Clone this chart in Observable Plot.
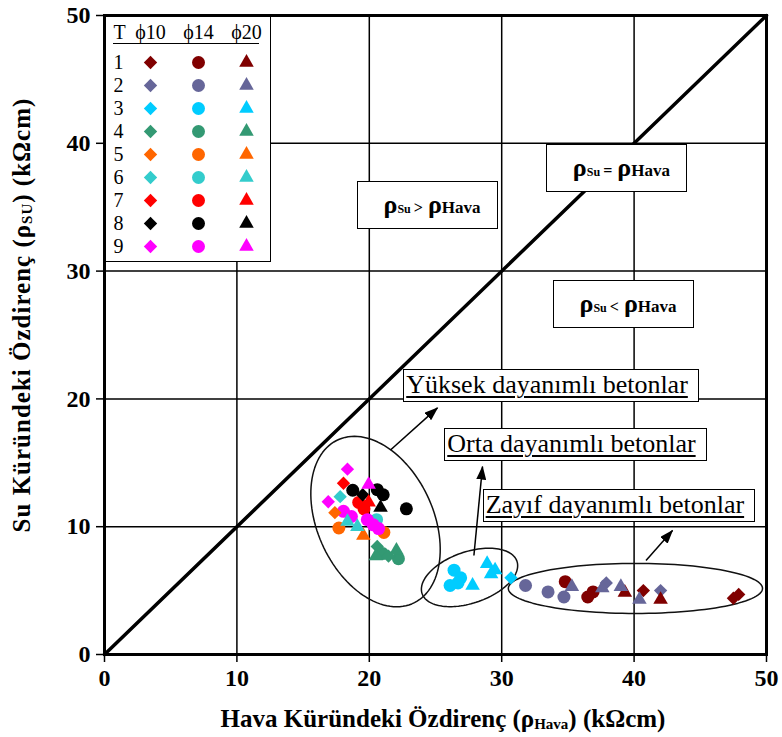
<!DOCTYPE html>
<html>
<head>
<meta charset="utf-8">
<script src="https://cdn.jsdelivr.net/npm/d3@7"></script>
<script src="https://cdn.jsdelivr.net/npm/@observablehq/plot@0.6"></script>
<style>
  body { margin: 0; background: #fff; }
  #wrap { position: relative; width: 782px; height: 737px; font-family: "Liberation Serif", "Times New Roman", serif; color: #000; }
  #wrap svg { display: block; }
  .rbox { position: absolute; width: 141px; height: 48px; box-sizing: border-box; border: 1.5px solid #000; background: #fff;
          display: flex; align-items: center; justify-content: center; font-weight: bold; padding-left: 10px; }
  .rbox .rho { font-size: 26px; }
  .rbox .s1 { font-size: 12px; }
  .rbox .op { font-size: 16px; margin: 0 5px 0 3px; }
  .rbox .s2 { font-size: 17px; }
  .cbox { position: absolute; height: 33px; box-sizing: border-box; border: 1.5px solid #000; background: #fff;
          font-size: 26px; line-height: 29px; padding: 0 10px 0 2px; white-space: nowrap;
          text-decoration: underline; text-decoration-thickness: 1.5px; text-underline-offset: 3px; }
  .axlab { position: absolute; font-weight: bold; font-size: 25px; text-align: center; white-space: nowrap; line-height: 30px; height: 30px; }
  .axlab sub { font-size: 15px; vertical-align: -2px; }
  #ylab { letter-spacing: 1px; }
  #legend { position: absolute; left: 105.5px; top: 16.5px; width: 164px; height: 244px; background: #fff;
            border-right: 1.5px solid #000; border-bottom: 1.5px solid #000; }
  #legend .uline { position: absolute; left: 7px; top: 26.5px; width: 146px; border-top: 1.5px solid #000; }
  #legend svg { position: absolute; left: 0; top: 0; }
</style>
</head>
<body>
<div id="wrap"></div>
<script>
// ---- categories / tick labels ----
const seriesNames = ["1", "2", "3", "4", "5", "6", "7", "8", "9"];          // T
const seriesColors = ["#800000", "#666699", "#00CCFF", "#339973", "#FF6600", "#33CCCC", "#FF0000", "#000000", "#FF00FF"];
const sizeNames = ["ϕ10", "ϕ14", "ϕ20"];
const sizeSymbols = ["diamond2", "circle", "triangle"];
const markerR = [6, 6.5, 5.4];
const xTicks = [0, 10, 20, 30, 40, 50];
const yTicks = [0, 10, 20, 30, 40, 50];
const equalityLine = [0, 50];

// ---- measured values: [diameter, ρHava (kΩcm), ρSu (kΩcm)] ----
const t1 = [["ϕ10", 40.7, 5.0], ["ϕ10", 47.5, 4.4], ["ϕ10", 47.9, 4.7], ["ϕ14", 34.8, 5.7], ["ϕ14", 36.5, 4.5], ["ϕ14", 36.9, 4.9], ["ϕ20", 39.3, 4.85], ["ϕ20", 42.0, 4.3]];
const t2 = [["ϕ10", 37.9, 5.6], ["ϕ10", 42.0, 5.0], ["ϕ14", 31.8, 5.4], ["ϕ14", 33.5, 4.9], ["ϕ14", 34.7, 4.5], ["ϕ20", 35.3, 5.3], ["ϕ20", 37.6, 5.2], ["ϕ20", 39.0, 5.3], ["ϕ20", 40.4, 4.3]];
const t3 = [["ϕ10", 30.7, 6.0], ["ϕ14", 26.4, 6.6], ["ϕ14", 26.9, 6.0], ["ϕ14", 26.1, 5.4], ["ϕ14", 26.7, 5.6], ["ϕ20", 27.8, 5.4], ["ϕ20", 28.9, 7.1], ["ϕ20", 29.2, 6.3], ["ϕ20", 29.5, 6.6]];
const t4 = [["ϕ10", 20.6, 8.45], ["ϕ10", 21.45, 7.7], ["ϕ14", 21.0, 7.9], ["ϕ14", 22.2, 7.5], ["ϕ20", 22.05, 8.15], ["ϕ20", 20.5, 7.7]];
const t5 = [["ϕ10", 17.4, 11.1], ["ϕ14", 17.7, 9.9], ["ϕ14", 21.1, 9.55], ["ϕ20", 19.55, 9.3]];
const t6 = [["ϕ10", 17.8, 12.35], ["ϕ14", 20.55, 10.55], ["ϕ20", 19.1, 10.0], ["ϕ20", 18.35, 10.4]];
const t7 = [["ϕ10", 18.05, 13.4], ["ϕ14", 19.2, 11.9], ["ϕ14", 19.6, 11.4], ["ϕ20", 19.95, 11.9]];
const t8 = [["ϕ10", 19.5, 12.5], ["ϕ14", 18.75, 12.85], ["ϕ14", 20.6, 12.9], ["ϕ14", 21.05, 12.5], ["ϕ14", 22.8, 11.4], ["ϕ20", 20.85, 11.5]];
const t9 = [["ϕ10", 18.35, 14.5], ["ϕ10", 16.9, 11.95], ["ϕ14", 18.05, 11.2], ["ϕ14", 18.65, 10.8], ["ϕ14", 19.85, 10.55], ["ϕ14", 20.3, 10.15], ["ϕ14", 20.7, 9.85], ["ϕ20", 19.95, 13.3]];

// ---- annotations ----
const regionOps = ["=", ">", "<"];
const regionX = [38.7, 24.4, 39.2];
const regionY = [38.0, 35.1, 27.35];
const classLabels = ["Yüksek dayanımlı betonlar", "Orta dayanımlı betonlar", "Zayıf dayanımlı betonlar"];
const classX = [22.6, 25.7, 28.6];
const classY = [21.0, 16.4, 11.6];
const arrowFromX = [21.6, 27.9, 40.9];
const arrowFromY = [16.0, 7.75, 7.35];
const arrowToX = [25.15, 28.55, 42.9];
const arrowToY = [19.3, 14.7, 9.7];
const ellipseCX = [20.47, 27.57, 40.1];
const ellipseCY = [10.4, 6.03, 5.17];
const ellipseRX = [7.0, 3.8, 9.6];
const ellipseRY = [4.4, 2.0, 1.96];
const ellipseAngle = [-67, 20, 0];

// ---- build tables ----
const allSeries = [t1, t2, t3, t4, t5, t6, t7, t8, t9];
const points = allSeries.flatMap((rows, i) => rows.map(([d, x, y]) => ({t: seriesNames[i], d, x, y})));
const ellipsePts = ellipseCX.flatMap((cx, i) => d3.range(0, 360, 3).map(deg => {
  const t = deg * Math.PI / 180, a = ellipseAngle[i] * Math.PI / 180;
  const ex = ellipseRX[i] * Math.cos(t), ey = ellipseRY[i] * Math.sin(t);
  return {k: i, x: cx + ex * Math.cos(a) - ey * Math.sin(a), y: ellipseCY[i] + ex * Math.sin(a) + ey * Math.cos(a)};
}));
const rOf = d => markerR[sizeNames.indexOf(d)];

const chart = Plot.plot({
  width: 782, height: 737,
  marginLeft: 104, marginRight: 16, marginTop: 15, marginBottom: 83,
  style: {fontFamily: '"Liberation Serif", "Times New Roman", serif', background: "white", color: "black", overflow: "visible"},
  x: {domain: [0, 50]},
  y: {domain: [0, 50]},
  color: {domain: seriesNames, range: seriesColors},
  symbol: {domain: sizeNames, range: sizeSymbols},
  r: {type: "identity"},
  marks: [
    Plot.gridX(xTicks, {stroke: "black", strokeOpacity: 1, strokeWidth: 1.5}),
    Plot.gridY(yTicks, {stroke: "black", strokeOpacity: 1, strokeWidth: 1.5}),
    Plot.line(equalityLine, {x: d => d, y: d => d, stroke: "black", strokeWidth: 3.5}),
    Plot.line(ellipsePts, {x: "x", y: "y", z: "k", curve: "linear-closed", stroke: "#111", strokeWidth: 1.5}),
    Plot.link(arrowFromX, {x1: (d, i) => arrowFromX[i], y1: (d, i) => arrowFromY[i], x2: (d, i) => arrowToX[i], y2: (d, i) => arrowToY[i], stroke: "black", strokeWidth: 1.5}),
    Plot.dot(points, {x: "x", y: "y", fill: "t", symbol: "d", r: d => rOf(d.d), stroke: "none"}),
    Plot.frame({stroke: "black", strokeWidth: 3}),
    Plot.axisX(xTicks, {tickSize: 8, tickPadding: 6, fontSize: 24, fontWeight: "bold", label: null, strokeWidth: 1.5}),
    Plot.axisY(yTicks, {tickSize: 8, tickPadding: 6, fontSize: 24, fontWeight: "bold", label: null, strokeWidth: 1.5})
  ]
});

const wrap = document.getElementById("wrap");
wrap.appendChild(chart);

// filled arrow heads
const svg = d3.select(chart);
svg.append("defs").append("marker")
  .attr("id", "headFill").attr("viewBox", "0 0 14 10").attr("refX", 13).attr("refY", 5)
  .attr("markerWidth", 14).attr("markerHeight", 10).attr("markerUnits", "userSpaceOnUse").attr("orient", "auto")
  .append("path").attr("d", "M0,0L14,5L0,10Z").attr("fill", "black");
svg.selectAll('g[aria-label="link"] path, g[aria-label="link"] line').attr("marker-end", "url(#headFill)");

const sx = chart.scale("x"), sy = chart.scale("y");

// region boxes
regionOps.forEach((op, i) => {
  const div = document.createElement("div");
  div.className = "rbox";
  div.style.left = (sx.apply(regionX[i]) - 70.5) + "px";
  div.style.top = (sy.apply(regionY[i]) - 24) + "px";
  div.innerHTML = `<span><span class="rho">ρ</span><span class="s1">Su</span><span class="op">${op === "<" ? "&lt;" : op === ">" ? "&gt;" : op}</span><span class="rho">ρ</span><span class="s2">Hava</span></span>`;
  wrap.appendChild(div);
});

// class label boxes
classLabels.forEach((lab, i) => {
  const div = document.createElement("div");
  div.className = "cbox";
  div.style.left = sx.apply(classX[i]) + "px";
  div.style.top = (sy.apply(classY[i]) - 16.5) + "px";
  div.textContent = lab;
  wrap.appendChild(div);
});

// axis labels
const xl = document.createElement("div");
xl.className = "axlab";
xl.style.left = "104px"; xl.style.width = "678px"; xl.style.top = "704px";
xl.innerHTML = "Hava Küründeki Özdirenç (ρ<sub>Hava</sub>) (kΩcm)";
wrap.appendChild(xl);
const yl = document.createElement("div");
yl.className = "axlab";
yl.id = "ylab";
yl.style.left = (22 - 250) + "px"; yl.style.width = "500px"; yl.style.top = (315 - 15) + "px";
yl.style.transform = "rotate(-90deg)";
yl.innerHTML = "Su Küründeki Özdirenç (ρ<sub>SU</sub>) (kΩcm)";
wrap.appendChild(yl);

// legend
const legend = document.createElement("div");
legend.id = "legend";
const legendRows = seriesNames.flatMap(t => sizeNames.map(d => ({t, d})));
const legendPlot = Plot.plot({
  width: 164, height: 244, margin: 0,
  style: {fontFamily: '"Liberation Serif", "Times New Roman", serif', background: "transparent", color: "black", overflow: "visible"},
  x: {type: "point", domain: sizeNames, range: [44, 140], padding: 0, axis: null},
  y: {type: "point", domain: seriesNames, range: [42.5, 231.5], padding: 0, axis: null},
  color: {domain: seriesNames, range: seriesColors},
  symbol: {domain: sizeNames, range: sizeSymbols},
  r: {type: "identity"},
  marks: [
    Plot.dot(legendRows, {x: "d", y: "t", fill: "t", symbol: "d", r: d => rOf(d.d), stroke: "none"}),
    Plot.text(seriesNames, {y: d => d, text: d => d, frameAnchor: "left", dx: 7, textAnchor: "start", fontSize: 20}),
    Plot.text(sizeNames, {x: d => d, text: d => d, frameAnchor: "top", lineAnchor: "middle", dy: 15, fontSize: 20}),
    Plot.text(["T"], {text: d => d, frameAnchor: "top-left", lineAnchor: "middle", dx: 7, dy: 15, textAnchor: "start", fontSize: 20})
  ]
});
legend.appendChild(legendPlot);
const ul = document.createElement("div");
ul.className = "uline";
legend.appendChild(ul);
wrap.appendChild(legend);
</script>
</body>
</html>
